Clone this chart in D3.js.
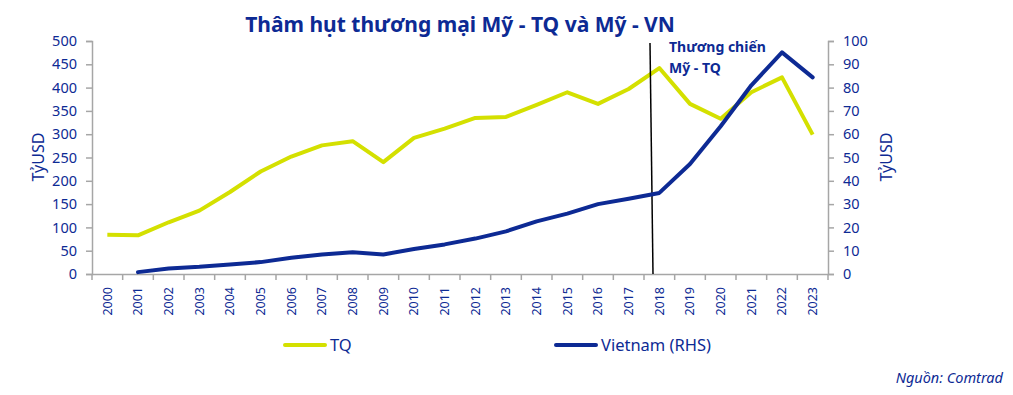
<!DOCTYPE html>
<html>
<head>
<meta charset="utf-8">
<script src="https://cdn.jsdelivr.net/npm/d3@7"></script>
<style>
  body { margin: 0; background: #fff; }
  text { font-family: "Noto Sans", sans-serif; fill: #0d2a94; }
</style>
</head>
<body>
<div class="container"></div>
<script>
// data
var years = ["2000","2001","2002","2003","2004","2005","2006","2007","2008","2009","2010","2011",
             "2012","2013","2014","2015","2016","2017","2018","2019","2020","2021","2022","2023"];
var tq = [84, 83, 111, 136, 176, 220, 252, 276, 285, 240, 292, 312,
          335, 337, 363, 390, 365, 397, 442, 365, 333, 390, 422, 299];
var vn = [null, 0.8, 2.4, 3.1, 4.1, 5.1, 7, 8.4, 9.3, 8.4, 10.7, 12.7,
          15.2, 18.3, 22.6, 25.9, 30, 32.3, 34.8, 47.2, 63.4, 81, 95.1, 84.4];
var leftTicks = [0, 50, 100, 150, 200, 250, 300, 350, 400, 450, 500];
var rightTicks = [0, 10, 20, 30, 40, 50, 60, 70, 80, 90, 100];

var navy = "#0d2a94", lime = "#d4e000", grey = "#a6a6a6";

var width = 1013, height = 395;
var margin = {top: 41, left: 92, right: 1013 - 828, bottom: 395 - 274};

var svg = d3.select(".container").append("svg")
    .attr("width", width)
    .attr("height", height);

var x = d3.scaleBand().domain(years).range([margin.left, 828]);
var yL = d3.scaleLinear().domain([0, 500]).range([274, 41]);
var yR = d3.scaleLinear().domain([0, 100]).range([274, 41]);

// title
svg.append("text")
  .attr("x", 460).attr("y", 32)
  .attr("text-anchor", "middle")
  .style("font-size", "21px").style("font-weight", "bold")
  .text("Thâm hụt thương mại Mỹ - TQ và Mỹ - VN");

// axes
var axL = svg.append("g").attr("transform", "translate(" + margin.left + ",0)")
  .call(d3.axisLeft(yL).tickValues(leftTicks).tickSize(6).tickPadding(9));
var axR = svg.append("g").attr("transform", "translate(828,0)")
  .call(d3.axisRight(yR).tickValues(rightTicks).tickSize(6).tickPadding(9));
var axB = svg.append("g").attr("transform", "translate(0,274)")
  .call(d3.axisBottom(x).tickSize(0).tickPadding(0));

[axL, axR].forEach(function(a) {
  a.selectAll("text").style("font-size", "14.5px").attr("fill", navy);
  a.selectAll("line, path").attr("stroke", grey).attr("stroke-width", 1.5);
});
axB.select("path").attr("stroke", grey).attr("stroke-width", 1.5);
axB.selectAll(".tick text")
  .style("font-size", "12.5px").attr("fill", navy)
  .attr("text-anchor", "end")
  .attr("transform", "rotate(-90)")
  .attr("x", -13).attr("y", 0).attr("dy", "0.35em");
// boundary ticks between categories
svg.append("g").selectAll("line")
  .data(d3.range(years.length + 1))
  .enter().append("line")
  .attr("x1", function(i) { return margin.left + i * x.step(); })
  .attr("x2", function(i) { return margin.left + i * x.step(); })
  .attr("y1", 274).attr("y2", 280)
  .attr("stroke", grey).attr("stroke-width", 1.5);

// axis titles
svg.append("text")
  .attr("transform", "translate(44,157) rotate(-90)")
  .attr("text-anchor", "middle").style("font-size", "16px")
  .text("TỷUSD");
svg.append("text")
  .attr("transform", "translate(892,157) rotate(-90)")
  .attr("text-anchor", "middle").style("font-size", "16px")
  .text("TỷUSD");

var cx = function(d, i) { return x(years[i]) + x.bandwidth() / 2; };

// lines
svg.append("path")
  .datum(tq)
  .attr("fill", "none").attr("stroke", lime).attr("stroke-width", 4)
  .attr("stroke-linejoin", "round")
  .attr("d", d3.line().x(cx).y(function(d) { return yL(d); }));

// trade war marker
svg.append("line")
  .attr("x1", 650).attr("y1", 43).attr("x2", 653).attr("y2", 274)
  .attr("stroke", "#000").attr("stroke-width", 1.5);

svg.append("path")
  .datum(vn)
  .attr("fill", "none").attr("stroke", navy).attr("stroke-width", 4)
  .attr("stroke-linejoin", "round").attr("stroke-linecap", "round")
  .attr("d", d3.line().defined(function(d) { return d != null; }).x(cx).y(function(d) { return yR(d); }));

var ann = svg.append("text").style("font-size", "14px").style("font-weight", "bold");
ann.append("tspan").attr("x", 669).attr("y", 52).text("Thương chiến");
ann.append("tspan").attr("x", 669).attr("y", 73).text("Mỹ - TQ");

// legend
var legend = [{name: "TQ", color: lime, x: 285}, {name: "Vietnam (RHS)", color: navy, x: 556}];
var lg = svg.selectAll(".lg").data(legend).enter().append("g").attr("class", "lg");
lg.append("line")
  .attr("x1", function(d) { return d.x; }).attr("x2", function(d) { return d.x + 40; })
  .attr("y1", 345).attr("y2", 345)
  .attr("stroke", function(d) { return d.color; }).attr("stroke-width", 4)
  .attr("stroke-linecap", "round");
lg.append("text")
  .attr("x", function(d) { return d.x + 45; }).attr("y", 351)
  .style("font-size", "16.5px")
  .text(function(d) { return d.name; });

// source
svg.append("text")
  .attr("x", 1003).attr("y", 383).attr("text-anchor", "end")
  .style("font-size", "14.5px").style("font-style", "italic")
  .text("Nguồn: Comtrad");
</script>
</body>
</html>
